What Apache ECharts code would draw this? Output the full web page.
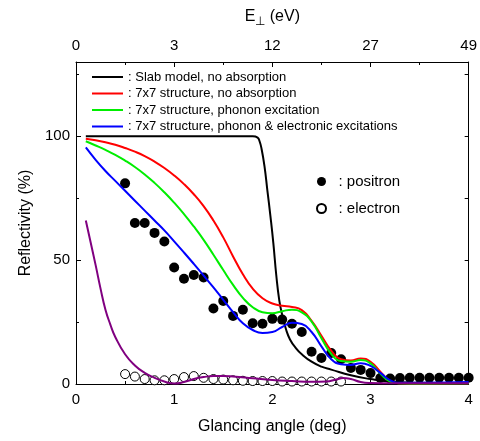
<!DOCTYPE html>
<html><head><meta charset="utf-8">
<script src="https://cdn.jsdelivr.net/npm/echarts@6/dist/echarts.min.js"></script>
<style>html,body{margin:0;padding:0;background:#fff}#c{width:480px;height:441px}</style>
</head><body><div id="c"></div>
<script>
const FONT = '"Liberation Sans", Arial, sans-serif';

// tick labels
const bottomTicks = [0, 1, 2, 3, 4];
const topTickLabels = ['0', '3', '12', '27', '49'];
const yLabelTicks = [0, 50, 100];
const yMinorTicks = [25, 75, 125];
const yRightTicks = [25, 50, 75, 100, 125];

// legend names
const names = [
  ': Slab model, no absorption',
  ': 7x7 structure, no absorption',
  ': 7x7 structure, phonon excitation',
  ': 7x7 structure, phonon & electronic excitations'
];

// black: slab model
const slabX = [0.1,0.5,1.0,1.5,1.8,1.85,1.87,1.89,1.92,1.95,1.98,2.01,2.04,2.07,2.1,2.14,2.18,2.24,2.3,2.4,2.5,2.6,2.8,3.0,3.2,3.5,4.0];
const slabY = [100,100,100,100,100,99.5,98,95,88,78,68,57,44,34,28,22,18,14.5,12,9,7,5.8,3.5,2,1,0.5,0.3];

// common x grid for the 7x7 curves
const gridX = [0.1,0.2,0.3,0.4,0.5,0.6,0.7,0.8,0.9,1.0,1.1,1.2,1.3,1.4,1.5,1.6,1.7,1.8,1.9,2.0,2.1,2.2,2.3,2.4,2.5,2.6,2.7,2.8,2.9,3.0,3.1,3.2,3.3,3.5,4.0];

// red: 7x7 no absorption
const redY = [99,98.4,97.6,96.6,95.3,93.8,92,89.8,87.2,84.2,80.7,76.6,71.8,66,59.2,51.5,44.3,38.5,34.6,32.5,31.6,31.1,29.8,25.5,19.5,13.5,10,9.5,10.3,9,5,1.2,0.3,0.2,0.3];

// green: phonon excitation
const greenY = [98,96.3,94.5,92.5,90.2,87.6,84.6,81.2,77.4,73.2,68.6,63.6,58.2,52.2,46,40,34.8,31,29,28.6,29.4,30,28.9,25.2,18.5,12.2,9.3,9,9.7,8.3,4.2,1,0.3,0.2,0.3];

// blue: phonon & electronic excitations
const blueY = [95.5,90.5,86,82,78,74,70,66,62,57.6,53.1,48.5,43.8,39,34,29,24.5,21.8,20.6,21,23,24.7,24.2,21,15.2,10,8,7.7,8.4,7.3,4.5,1.5,0.5,0.5,0.8];

// purple: electron calculation
const purpleX = [0.1,0.15,0.2,0.25,0.3,0.35,0.4,0.5,0.6,0.7,0.8,0.9,1.0,1.1,1.2,1.3,1.4,1.5,1.6,1.8,2.0,2.2,2.4,2.55,2.65,2.72,2.8,2.9,3.0,3.2,3.5,4.0];
const purpleY = [66,57,48,38.5,30,24,19,12,7.5,4.5,2.5,1,0.2,0.8,2,2.8,3.2,3.2,3,2.3,1.6,1.2,0.9,1,1.8,2.4,2,0.8,0.4,0.3,0.3,0.3];

// positron data
const posX = [0.5,0.6,0.7,0.8,0.9,1.0,1.1,1.2,1.3,1.4,1.5,1.6,1.7,1.8,1.9,2.0,2.1,2.2,2.3,2.4,2.5,2.6,2.7,2.8,2.9,3.0,3.1,3.2,3.3,3.4,3.5,3.6,3.7,3.8,3.9,4.0];
const posY = [81,65,65,61,57.5,47,42.5,44,43,30.5,33.5,27.5,30,24.5,24.3,26.3,26,24.3,21,13,10.5,12.5,10,6.5,5.7,4.4,2.4,2.2,2.4,2.5,2.5,2.5,2.5,2.5,2.5,2.5];

// electron data
const eleX = [0.5,0.6,0.7,0.8,0.9,1.0,1.1,1.2,1.3,1.4,1.5,1.6,1.7,1.8,1.9,2.0,2.1,2.2,2.3,2.4,2.5,2.6,2.7];
const eleY = [4,3,2,1.5,1.5,2,2.8,3.2,2.5,2,1.8,1.5,1.3,1.2,1.2,1.2,1.0,1.0,1.0,1.0,1.0,1.0,1.0];

const zip = (xs, ys) => xs.map((x, i) => [x, ys[i]]);

const chart = echarts.init(document.getElementById('c'), null, {renderer: 'canvas'});

const axisCommon = {
  type: 'value', min: 0, max: 4, interval: 1,
  axisLine: {show: true, onZero: false, lineStyle: {color: '#000', width: 1}},
  axisTick: {show: true, inside: true, length: 5, lineStyle: {color: '#000'}},
  minorTick: {show: true, splitNumber: 2, length: 3, lineStyle: {color: '#000'}},
  splitLine: {show: false},
  axisLabel: {color: '#000', fontFamily: FONT, fontSize: 15}
};

function lineSeries(name, xs, ys, color) {
  return {
    name, type: 'line', data: zip(xs, ys), symbol: 'none', smooth: 0.5,
    lineStyle: {color, width: 2}, itemStyle: {color}, z: 4, silent: true, animation: false
  };
}

chart.setOption({
  animation: false,
  backgroundColor: '#fff',
  grid: {left: 76, right: 10, top: 62, bottom: 57, containLabel: false},
  xAxis: [
    Object.assign({}, axisCommon, {
      position: 'bottom',
      name: 'Glancing angle (deg)', nameLocation: 'middle', nameGap: 35,
      nameTextStyle: {color: '#000', fontFamily: FONT, fontSize: 16},
      axisLabel: Object.assign({}, axisCommon.axisLabel, {margin: 8})
    }),
    Object.assign({}, axisCommon, {
      position: 'top',
      name: 'E{sub|⊥} (eV)', nameLocation: 'middle', nameGap: 34,
      nameTextStyle: {color: '#000', fontFamily: FONT, fontSize: 16,
        rich: {sub: {fontFamily: FONT, fontSize: 12, verticalAlign: 'bottom', lineHeight: 22, color: '#000'}}},
      axisLabel: Object.assign({}, axisCommon.axisLabel, {margin: 9,
        formatter: v => { const i = bottomTicks.indexOf(v); return i >= 0 ? topTickLabels[i] : ''; }})
    })
  ],
  yAxis: [
    {
      type: 'value', min: 0, max: 130, position: 'left',
      name: 'Reflectivity (%)', nameLocation: 'middle', nameGap: 40,
      nameTextStyle: {color: '#000', fontFamily: FONT, fontSize: 16},
      axisLine: {show: true, onZero: false, lineStyle: {color: '#000', width: 1}},
      axisTick: {show: true, inside: true, length: 5, customValues: yLabelTicks, lineStyle: {color: '#000'}},
      axisLabel: {color: '#000', fontFamily: FONT, fontSize: 15, margin: 6, customValues: yLabelTicks},
      splitLine: {show: false}
    },
    {
      type: 'value', min: 0, max: 130, position: 'left',
      axisLine: {show: false, onZero: false},
      axisTick: {show: true, inside: true, length: 3, customValues: yMinorTicks, lineStyle: {color: '#000'}},
      axisLabel: {show: false},
      splitLine: {show: false}
    },
    {
      type: 'value', min: 0, max: 130, position: 'right',
      axisLine: {show: true, onZero: false, lineStyle: {color: '#000', width: 1}},
      axisTick: {show: true, inside: true, length: 4, customValues: yRightTicks, lineStyle: {color: '#000'}},
      axisLabel: {show: false},
      splitLine: {show: false}
    }
  ],
  legend: [
    {
      data: names, orient: 'vertical', left: 92, top: 70.5, padding: 0,
      icon: 'rect', itemWidth: 31, itemHeight: 2, itemGap: 3.5,
      textStyle: {color: '#000', fontFamily: FONT, fontSize: 13},
      selectedMode: false
    },
    {
      data: [': positron', ': electron'], orient: 'vertical', left: 311, top: 169,
      itemWidth: 24, itemHeight: 9, itemGap: 12,
      textStyle: {color: '#000', fontFamily: FONT, fontSize: 15},
      selectedMode: false
    }
  ],
  series: [
    lineSeries(names[0], slabX, slabY, '#000000'),
    lineSeries(names[1], gridX, redY, '#ff0000'),
    lineSeries(names[2], gridX, greenY, '#00ee00'),
    lineSeries(names[3], gridX, blueY, '#0000ff'),
    lineSeries('electron calc', purpleX, purpleY, '#800080'),
    {
      name: ': positron', type: 'scatter', data: zip(posX, posY), symbol: 'circle', symbolSize: 10,
      itemStyle: {color: '#000', borderColor: '#000', borderWidth: 0, opacity: 1}, z: 2, silent: true
    },
    {
      name: ': electron', type: 'scatter', data: zip(eleX, eleY), symbol: 'circle', symbolSize: 9,
      itemStyle: {color: '#fff', borderColor: '#000', borderWidth: 1, opacity: 1}, z: 2, silent: true
    }
  ]
});
</script></body></html>
